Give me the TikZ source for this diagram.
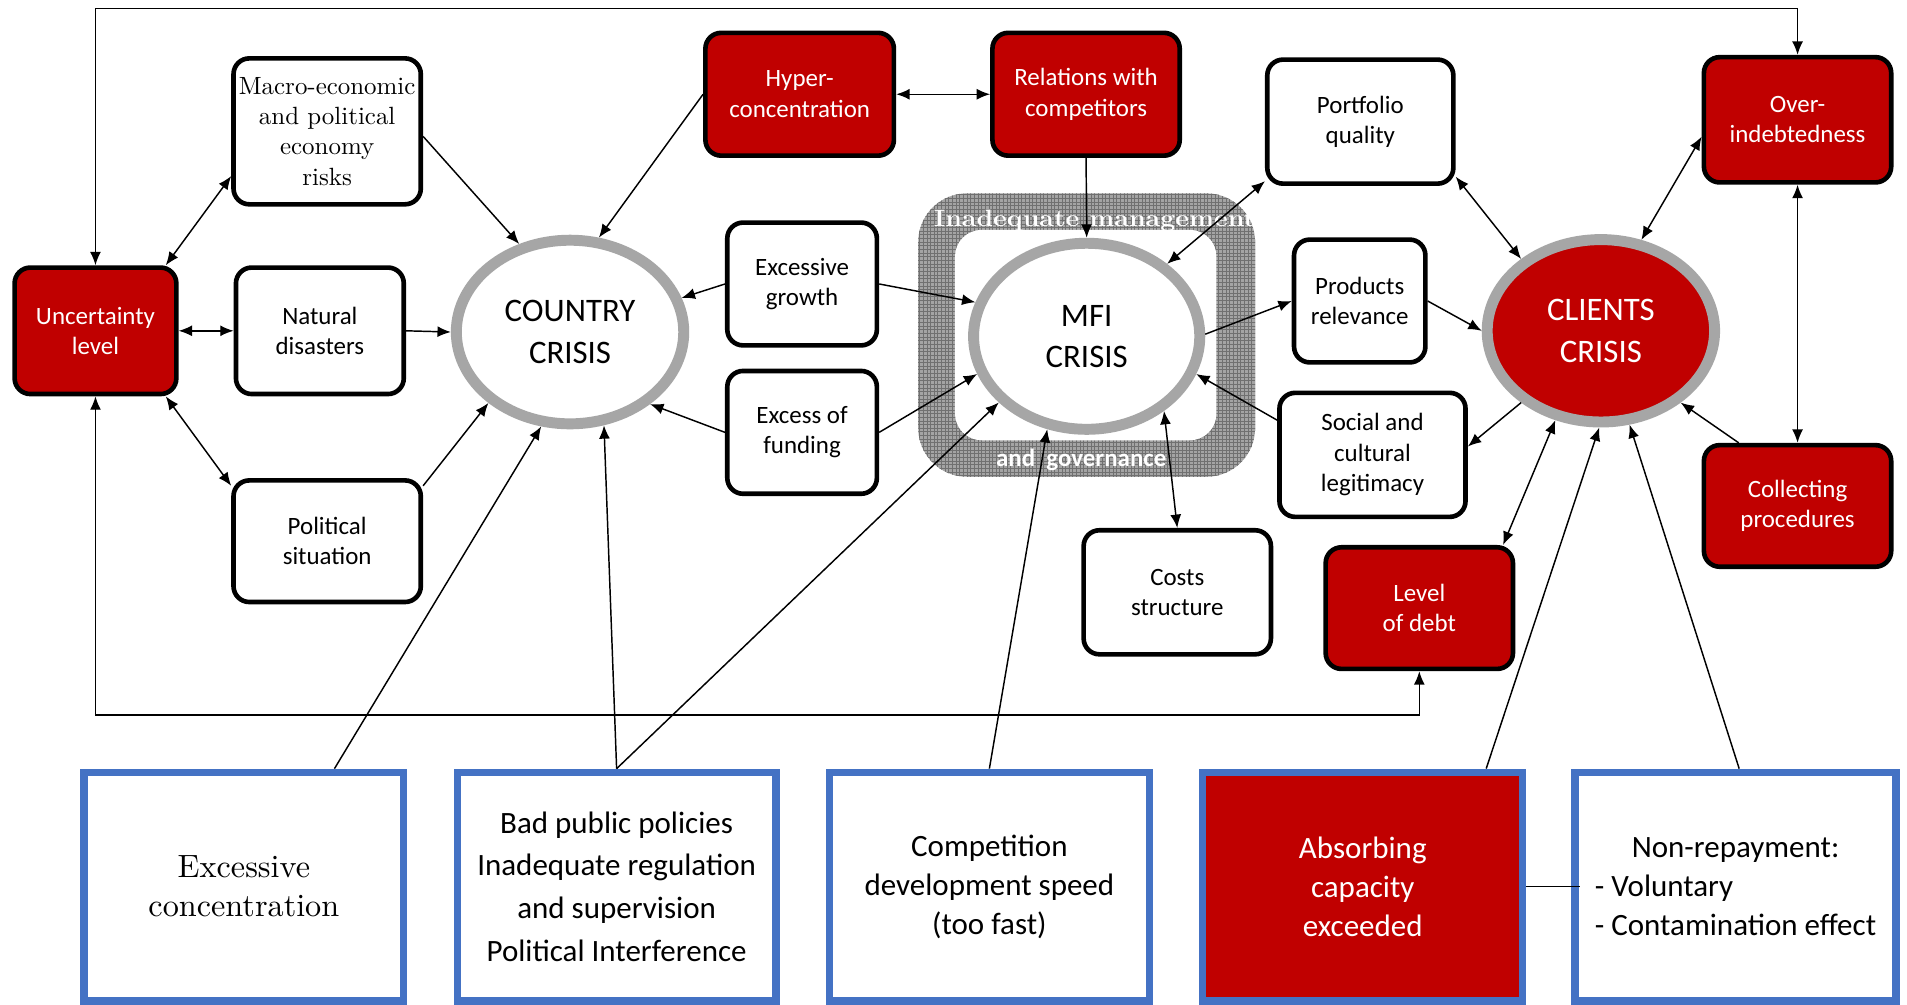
\documentclass[tikz,border=0pt]{standalone}
\usepackage{fontspec}
\usepackage{calc}
\usepackage{graphicx}
\usetikzlibrary{arrows.meta,shapes.geometric,patterns}
\newfontfamily\carl{Carlito}
\newfontfamily\lmten{lmroman10-regular.otf}[BoldFont=lmroman10-bold.otf]
\definecolor{myred}{HTML}{C00000}
\definecolor{ringgray}{HTML}{A6A6A6}
\definecolor{myblue}{HTML}{4472C4}
\definecolor{hatchbg}{HTML}{A4A4A4}
\definecolor{hatchfg}{HTML}{707070}
\newcommand\boxfont{\carl\fontsize{20.5pt}{25pt}\selectfont}
\newcommand\serifboxfont{\lmten\fontsize{20.5pt}{25pt}\selectfont}
\newcommand\crisisfont{\carl\fontsize{27pt}{34pt}\selectfont}
\newcommand\botfont{\carl\fontsize{25.5pt}{32pt}\selectfont}
\newcommand\botfontB{\carl\fontsize{25.5pt}{35pt}\selectfont}
\newcommand\botserif{\lmten\fontsize{26.5pt}{32pt}\selectfont}
\tikzset{
  basebox/.style={rectangle, rounded corners=13pt, line width=3.8pt, draw=black,
    align=center, inner sep=0pt, font=\boxfont},
  wbox/.style={basebox, fill=white, text=black},
  rbox/.style={basebox, fill=myred, text=white},
  crisis/.style={ellipse, draw=ringgray, line width=9pt, inner sep=0pt,
    align=center, font=\crisisfont},
  bbox/.style={rectangle, draw=myblue, line width=6pt, inner sep=0pt, align=center,
    font=\botfont, minimum height=188pt},
  conn/.style={line width=1.2pt, -{Latex[length=11pt,width=9pt]}},
  dconn/.style={line width=1.2pt, {Latex[length=11pt,width=9pt]}-{Latex[length=11pt,width=9pt]}},
  plainline/.style={line width=1.2pt}
}
\begin{document}
\begin{tikzpicture}[x=1pt,y=-1pt]
\fill[white] (0,0) rectangle (1568,826);
\useasboundingbox (0,0) rectangle (1568,826);

% management frame
\node[rectangle, rounded corners=40pt, draw=none, preaction={fill=hatchbg},
  pattern=grid, pattern color=hatchfg, minimum width=277pt, minimum height=233pt,
  inner sep=0pt] (mgmt) at (893.5,275.5) {};
\node[rectangle, rounded corners=22pt, fill=white, minimum width=215pt,
  minimum height=173pt, inner sep=0pt] (mgmtin) at (892.7,275.5) {};
\begin{scope}
  \clip[rounded corners=40pt] (mgmt.south west) rectangle (mgmt.north east);
  \node[text=white, inner sep=0pt, font=\lmten\bfseries\fontsize{19.5pt}{22pt}\selectfont]
    (inadtxt) at (900,181.5) {\scalebox{1.1}[1]{Inadequate management}};
\end{scope}
\node[text=white, inner sep=0pt, font=\carl\bfseries\fontsize{20.5pt}{24pt}\selectfont]
  (govtxt) at (889,378) {and\ \ governance};

% crisis ellipses
\node[crisis, fill=white, minimum width=187pt, minimum height=151pt] (country) at (468.7,273) {COUNTRY\\CRISIS};
\node[crisis, fill=white, minimum width=186pt, minimum height=153pt] (mfi) at (893.5,276.5) {MFI\\CRISIS};
\node[crisis, fill=myred, text=white, minimum width=187pt, minimum height=150pt] (clients) at (1316.3,272) {CLIENTS\\CRISIS};

% boxes
\node[rbox, minimum width=133pt, minimum height=104pt] (unc) at (78.5,272) {Uncertainty\\level};
\node[wbox, font=\serifboxfont, minimum width=154pt, minimum height=120pt] (macro) at (269,108) {Macro-economic\\and political\\economy\\risks};
\node[wbox, minimum width=138pt, minimum height=104pt] (nat) at (263,272) {Natural\\disasters};
\node[wbox, minimum width=154pt, minimum height=100pt] (pol) at (269,445) {Political\\situation};
\node[rbox, minimum width=155pt, minimum height=101pt] (hyper) at (657.5,77.5) {Hyper-\\concentration};
\node[rbox, minimum width=154pt, minimum height=101pt] (rel) at (893,77.5) {Relations with\\competitors};
\node[wbox, minimum width=123pt, minimum height=101pt] (exg) at (659.5,233.5) {Excessive\\growth};
\node[wbox, minimum width=123pt, minimum height=101pt] (exf) at (659.5,355.5) {Excess of\\funding};
\node[wbox, minimum width=153pt, minimum height=102pt] (port) at (1118.5,100) {Portfolio\\quality};
\node[wbox, minimum width=108pt, minimum height=101pt] (prod) at (1118,247.5) {Products\\relevance};
\node[wbox, minimum width=153pt, minimum height=102pt] (soc) at (1128.5,374) {Social and\\cultural\\legitimacy};
\node[wbox, minimum width=154pt, minimum height=102pt] (cost) at (968,487) {Costs\\structure};
\node[rbox, minimum width=154pt, minimum height=100pt] (debt) at (1167,500) {Level\\of debt};
\node[rbox, minimum width=154pt, minimum height=103pt] (over) at (1478,98.5) {Over-\\indebtedness};
\node[rbox, minimum width=154pt, minimum height=100pt] (coll) at (1478,416) {Collecting\\procedures};

% bottom boxes
\node[bbox, fill=white, font=\botserif, minimum width=263pt] (b1) at (200.5,729) {Excessive\\concentration};
\node[bbox, fill=white, font=\botfontB, minimum width=262pt] (b2) at (507,729) {Bad public policies\\Inadequate regulation\\and supervision\\Political Interference};
\node[bbox, fill=white, minimum width=263pt] (b3) at (813.5,729) {Competition\\development speed\\(too fast)};
\node[bbox, fill=myred, text=white, minimum width=263pt] (b4) at (1120.5,729) {Absorbing\\capacity\\exceeded};
\node[bbox, fill=white, align=left, minimum width=264pt] (b5) at (1427,729)
  {\makebox[\widthof{- Contamination effect}][c]{Non-repayment:}\\- Voluntary\\- Contamination effect};

% frame lines
\coordinate (tl) at (unc.north |- 0,7);
\coordinate (tr) at (over.north |- 0,7);
\draw[dconn] (unc.north) -- (tl) -- (tr) -- (over.north);
\coordinate (bl) at (unc.south |- 0,588);
\coordinate (br) at (debt.south |- 0,588);
\draw[dconn] (unc.south) -- (bl) -- (br) -- (debt.south);

% connectors
\draw[dconn] (unc.43) -- (macro.205);
\draw[dconn] (unc.east) -- (nat.west);
\draw[dconn] (unc.-43) -- (pol.150);
\draw[conn] (macro.-3) -- (country.120);
\draw[conn] (nat.east) -- (country.west);
\draw[conn] (pol.30) -- (country.221);
\draw[conn] (hyper.west) -- (country.73);
\draw[dconn] (hyper.east) -- (rel.west);
\draw[conn] (rel.south) -- (mfi.north);
\draw[conn] (exg.west) -- (country.17);
\draw[conn] (exg.east) -- (mfi.163);
\draw[conn] (exf.west) -- (country.-42);
\draw[conn] (exf.east) -- (mfi.199);
\draw[dconn] (port.212) -- (mfi.42);
\draw[conn] (mfi.1) -- (prod.west);
\draw[conn] (soc.160) -- (mfi.-19);
\draw[dconn] (mfi.-44) -- (cost.north);
\draw[dconn] (port.-30) -- (clients.138);
\draw[conn] (prod.east) -- (clients.west);
\draw[conn] (clients.222) -- (soc.5);
\draw[dconn] (clients.243) -- (debt.37);
\draw[dconn] (over.190) -- (clients.66);
\draw[dconn] (over.south) -- (coll.north);
\draw[conn] (coll.133) -- (clients.-42);
\draw[conn] ([xshift=74.5pt]b1.north) -- (country.253);
\draw[conn] (b2.north) -- (country.-70);
\draw[conn] (b2.north) -- (mfi.217);
\draw[conn] (b3.north) -- (mfi.247);
\draw[conn] ([xshift=101.5pt]b4.north) -- (clients.269);
\draw[conn] ([xshift=3pt]b5.north) -- (clients.-73);
\draw[plainline] (b4.east) -- ([xshift=7pt]b5.west);
\end{tikzpicture}
\end{document}
